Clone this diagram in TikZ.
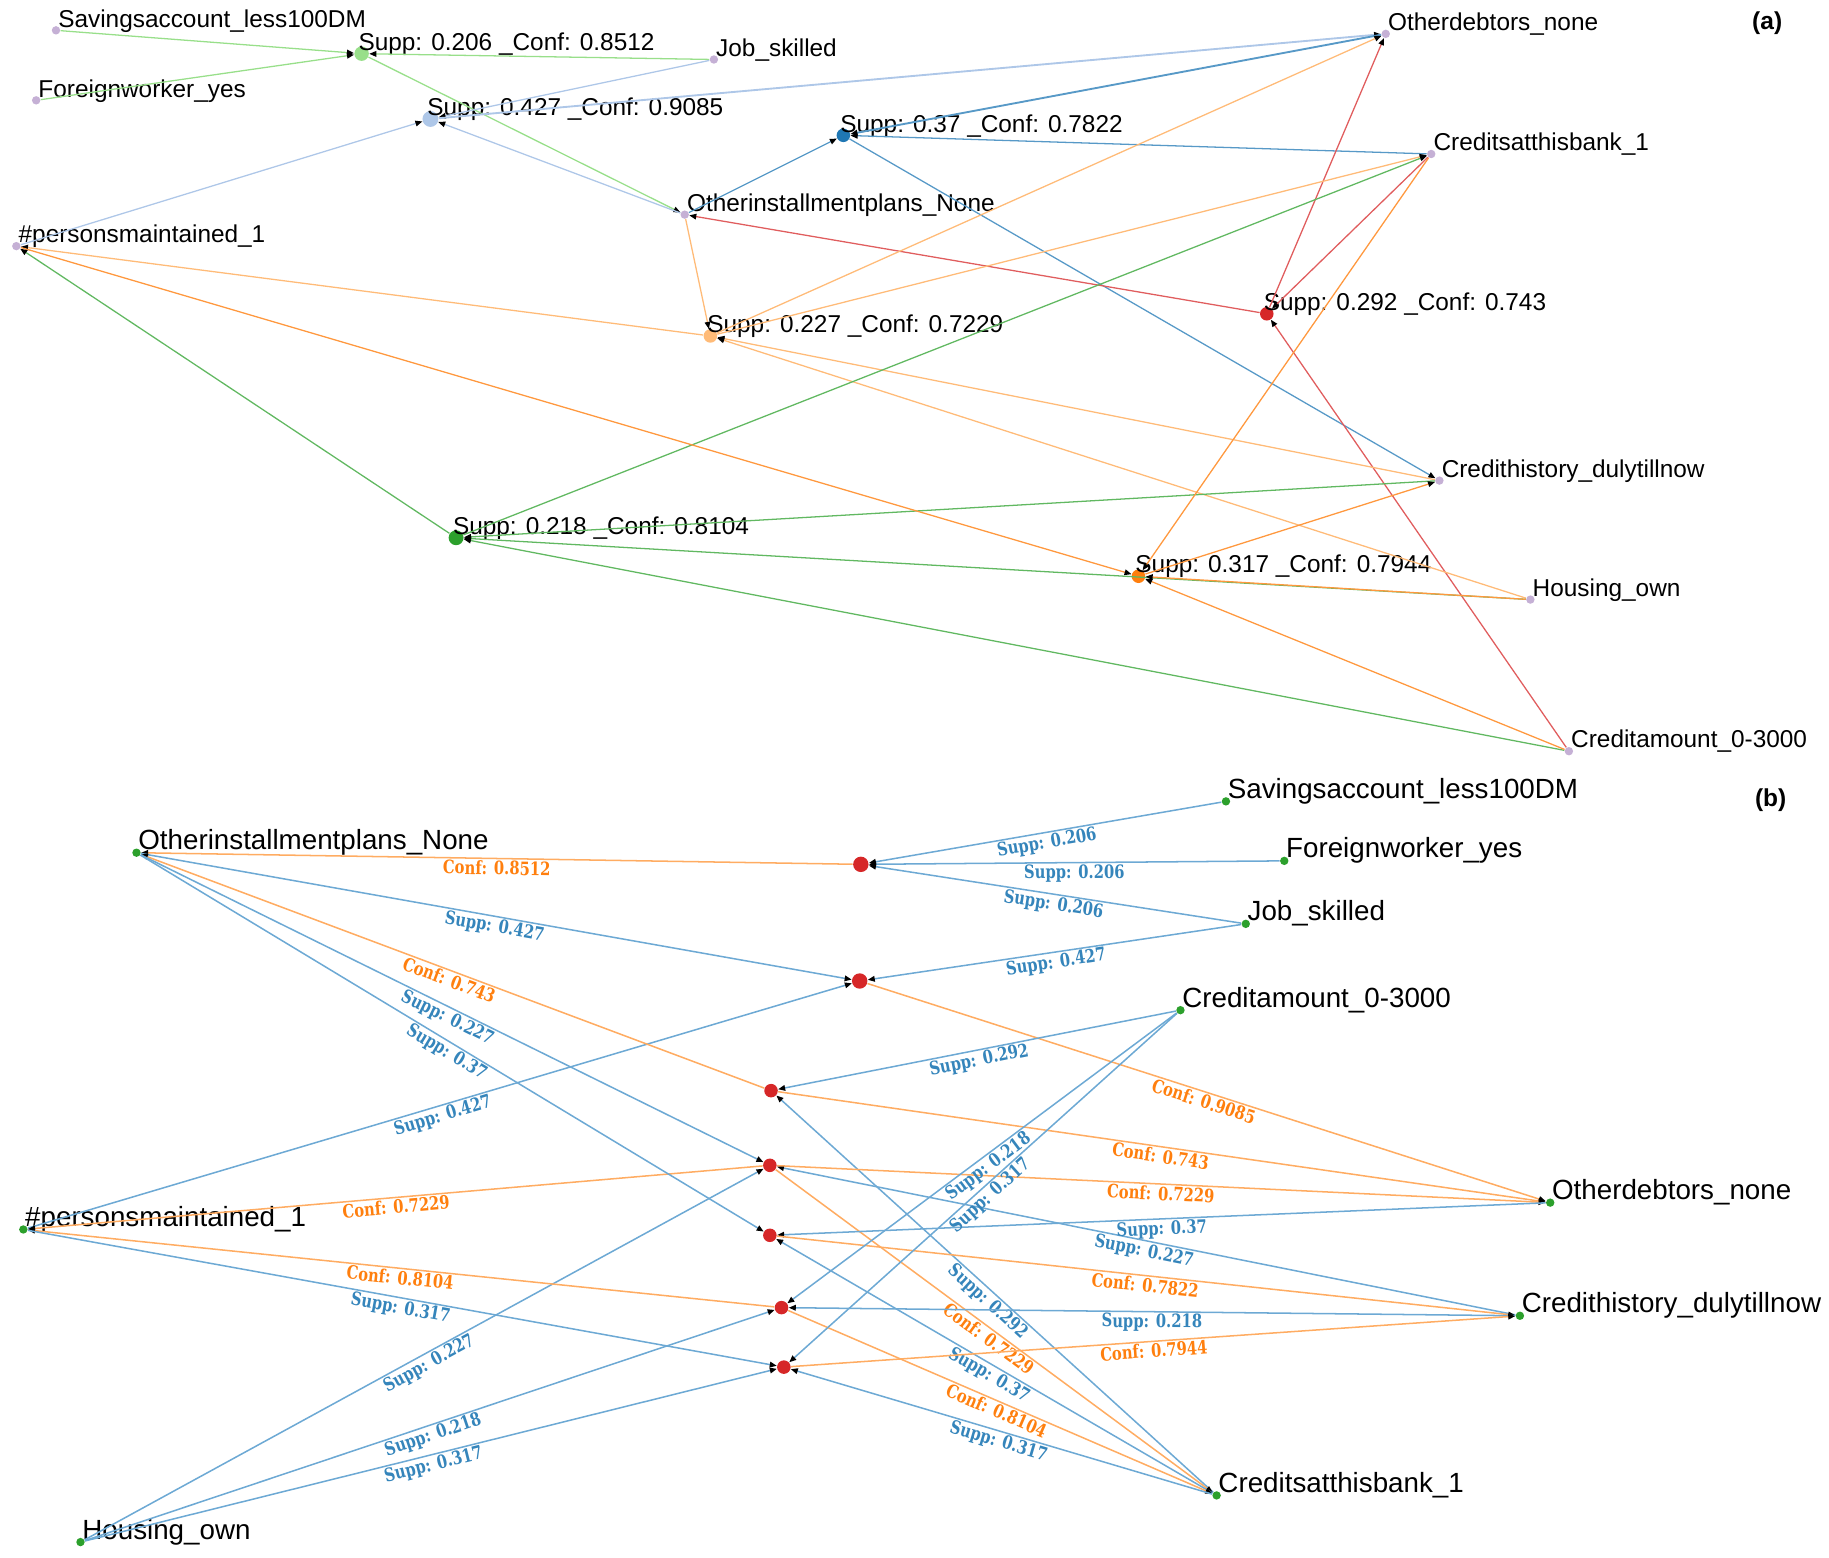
\documentclass[tikz,border=0pt]{standalone}
\usepackage{fontspec}
\setmainfont{Liberation Sans}
\newfontfamily\edgefont[FakeStretch=0.8]{DejaVu Serif}
\usetikzlibrary{arrows.meta}

\definecolor{lilac}{HTML}{C5B0D5}
\definecolor{ltgreen}{HTML}{98DF8A}
\definecolor{ltblue}{HTML}{AEC7E8}
\definecolor{dblue}{HTML}{1F77B4}
\definecolor{dred}{HTML}{D62728}
\definecolor{ltorange}{HTML}{FFBB78}
\definecolor{dgreen}{HTML}{2CA02C}
\definecolor{dorange}{HTML}{FF7F0E}
\definecolor{suppline}{HTML}{6DA9D4}
\definecolor{confline}{HTML}{FFAC62}

\begin{document}
\begin{tikzpicture}[x=0.5pt, y=-0.5pt,
    item/.style={circle, fill=#1, inner sep=0pt, minimum size=3.6pt},
    rul/.style={circle, fill=#1, inner sep=0pt, minimum size=5.8pt},
    txta/.style={anchor=base west, inner sep=0pt, xshift=-1.2pt, yshift=1.4pt, font=\fontsize{10.45}{12}\selectfont},
    txtr/.style={txta, xshift=-1.1pt},
    txtb/.style={anchor=base west, inner sep=0pt, xshift=-1.4pt, yshift=1.3pt, font=\fontsize{11.9}{14}\selectfont},
    arr/.style={-{Triangle[length=3pt, width=2.4pt, color=black]}, line width=0.55pt},
    supp/.style={arr, line width=0.65pt, draw=suppline},
    conf/.style={arr, line width=0.65pt, draw=confline},
    lbl/.style={sloped, below, inner sep=0.6pt, font=\edgefont\bfseries\fontsize{7.9}{9}\selectfont},
    sl/.style={lbl, text=dblue!90!white},
    cl/.style={lbl, text=dorange}
]
\useasboundingbox (0,0) rectangle (1568,1335);

% (a) items
\node[item=lilac, label={[txta]0:Savingsaccount\_less100DM}] (a-sav) at (48,26) {};
\node[item=lilac, label={[txta]0:Foreignworker\_yes}] (a-for) at (31,86) {};
\node[item=lilac, label={[txta]0:Job\_skilled}] (a-job) at (612,51) {};
\node[item=lilac, label={[txta]0:Otherdebtors\_none}] (a-odn) at (1188,29) {};
\node[item=lilac, label={[txta]0:Creditsatthisbank\_1}] (a-cab) at (1227,132) {};
\node[item=lilac, label={[txta]0:Otherinstallmentplans\_None}] (a-oip) at (587,184) {};
\node[item=lilac, label={[txta]0:\#personsmaintained\_1}] (a-pm) at (14,211) {};
\node[item=lilac, label={[txta]0:Credithistory\_dulytillnow}] (a-chd) at (1234,412) {};
\node[item=lilac, label={[txta]0:Housing\_own}] (a-hso) at (1312,514) {};
\node[item=lilac, label={[txta]0:Creditamount\_0-3000}] (a-cam) at (1345,644) {};

% (a) rules
\node[rul=ltgreen, minimum size=6.2pt, label={[txtr, xshift=-2.5pt]0:{Supp: 0.206 \_Conf: 0.8512}}] (a-r1) at (310,46) {};
\node[rul=ltblue, minimum size=6.8pt, label={[txtr, xshift=-2.8pt]0:{Supp: 0.427 \_Conf: 0.9085}}] (a-r2) at (369,102) {};
\node[rul=dblue, label={[txtr, xshift=-2.3pt]0:{Supp: 0.37 \_Conf: 0.7822}}] (a-r3) at (723,116) {};
\node[rul=dred, label={[txtr, xshift=-2.3pt]0:{Supp: 0.292 \_Conf: 0.743}}] (a-r4) at (1086,269) {};
\node[rul=ltorange, label={[txtr, xshift=-2.3pt]0:{Supp: 0.227 \_Conf: 0.7229}}] (a-r5) at (609,288) {};
\node[rul=dgreen, minimum size=6.4pt, label={[txtr, xshift=-2.6pt]0:{Supp: 0.218 \_Conf: 0.8104}}] (a-r6) at (391,461) {};
\node[rul=dorange, label={[txtr, xshift=-2.3pt]0:{Supp: 0.317 \_Conf: 0.7944}}] (a-r7) at (976,494) {};

\draw[arr, ltgreen] (a-sav) -- (a-r1);
\draw[arr, ltgreen] (a-for) -- (a-r1);
\draw[arr, ltgreen] (a-job) -- (a-r1);
\draw[arr, ltgreen] (a-r1) -- (a-oip);
\draw[arr, ltblue] (a-pm) -- (a-r2);
\draw[arr, ltblue] (a-oip) -- (a-r2);
\draw[arr, ltblue] (a-job) -- (a-r2);
\draw[arr, ltblue, line width=0.8pt] (a-r2) -- (a-odn);
\draw[arr, dblue!75!white] (a-oip) -- (a-r3);
\draw[arr, dblue!75!white] (a-cab) -- (a-r3);
\draw[arr, dblue!75!white, line width=0.8pt] (a-odn) -- (a-r3);
\draw[arr, dblue!75!white] (a-r3) -- (a-chd);
\draw[arr, dred!75!white] (a-cab) -- (a-r4);
\draw[arr, dred!75!white] (a-cam) -- (a-r4);
\draw[arr, dred!75!white] (a-r4) -- (a-oip);
\draw[arr, dred!75!white] (a-r4) -- (a-odn);
\draw[arr, ltorange] (a-oip) -- (a-r5);
\draw[arr, ltorange] (a-chd) -- (a-r5);
\draw[arr, ltorange] (a-hso) -- (a-r5);
\draw[arr, ltorange] (a-r5) -- (a-pm);
\draw[arr, ltorange] (a-r5) -- (a-odn);
\draw[arr, ltorange] (a-r5) -- (a-cab);
\draw[arr, dgreen!75!white] (a-chd) -- (a-r6);
\draw[arr, dgreen!75!white] (a-hso) -- (a-r6);
\draw[arr, dgreen!75!white] (a-cam) -- (a-r6);
\draw[arr, dgreen!75!white] (a-r6) -- (a-pm);
\draw[arr, dgreen!75!white] (a-r6) -- (a-cab);
\draw[arr, dorange!80!white] (a-pm) -- (a-r7);
\draw[arr, dorange!80!white] (a-cab) -- (a-r7);
\draw[arr, dorange!80!white] (a-hso) -- (a-r7);
\draw[arr, dorange!80!white] (a-cam) -- (a-r7);
\draw[arr, dorange!80!white] (a-r7) -- (a-chd);

\node[font=\bfseries\fontsize{10.5}{12}\selectfont] (lab-a) at (1515,20) {(a)};

% (b) items
\node[item=dgreen, label={[txtb]0:Savingsaccount\_less100DM}] (b-sav) at (1051,687) {};
\node[item=dgreen, label={[txtb]0:Foreignworker\_yes}] (b-for) at (1101,738) {};
\node[item=dgreen, label={[txtb]0:Job\_skilled}] (b-job) at (1068,792) {};
\node[item=dgreen, label={[txtb]0:Creditamount\_0-3000}] (b-cam) at (1012,866) {};
\node[item=dgreen, label={[txtb]0:Otherinstallmentplans\_None}] (b-oip) at (117,731) {};
\node[item=dgreen, label={[txtb]0:\#personsmaintained\_1}] (b-pm) at (20,1054) {};
\node[item=dgreen, label={[txtb]0:Otherdebtors\_none}] (b-odn) at (1329,1031) {};
\node[item=dgreen, label={[txtb]0:Credithistory\_dulytillnow}] (b-chd) at (1303,1128) {};
\node[item=dgreen, label={[txtb]0:Creditsatthisbank\_1}] (b-cab) at (1043,1282) {};
\node[item=dgreen, label={[txtb]0:Housing\_own}] (b-hso) at (69,1322) {};

% (b) rules
\node[rul=dred, minimum size=6.6pt] (b-r1) at (738,741) {};
\node[rul=dred, minimum size=6.6pt] (b-r2) at (737,841) {};
\node[rul=dred] (b-r3) at (661,935) {};
\node[rul=dred] (b-r4) at (660,999) {};
\node[rul=dred] (b-r5) at (660,1059) {};
\node[rul=dred] (b-r6) at (670,1121) {};
\node[rul=dred] (b-r7) at (672,1172) {};

\draw[supp] (b-sav) -- node[sl] {Supp: 0.206} (b-r1);
\draw[supp] (b-for) -- node[sl] {Supp: 0.206} (b-r1);
\draw[supp] (b-job) -- node[sl] {Supp: 0.206} (b-r1);
\draw[conf] (b-r1) -- node[cl] {Conf: 0.8512} (b-oip);

\draw[supp] (b-oip) -- node[sl] {Supp: 0.427} (b-r2);
\draw[supp] (b-job) -- node[sl] {Supp: 0.427} (b-r2);
\draw[supp] (b-pm) -- node[sl] {Supp: 0.427} (b-r2);
\draw[conf] (b-r2) -- node[cl] {Conf: 0.9085} (b-odn);

\draw[supp] (b-cam) -- node[sl] {Supp: 0.292} (b-r3);
\draw[supp] (b-cab) -- node[sl] {Supp: 0.292} (b-r3);
\draw[conf] (b-r3) -- node[cl] {Conf: 0.743} (b-oip);
\draw[conf] (b-r3) -- node[cl] {Conf: 0.743} (b-odn);

\draw[supp] (b-oip) -- node[sl] {Supp: 0.227} (b-r4);
\draw[supp] (b-hso) -- node[sl] {Supp: 0.227} (b-r4);
\draw[supp] (b-chd) -- node[sl] {Supp: 0.227} (b-r4);
\draw[conf] (b-r4) -- node[cl] {Conf: 0.7229} (b-pm);
\draw[conf] (b-r4) -- node[cl] {Conf: 0.7229} (b-odn);
\draw[conf] (b-r4) -- node[cl] {Conf: 0.7229} (b-cab);

\draw[supp] (b-oip) -- node[sl] {Supp: 0.37} (b-r5);
\draw[supp] (b-odn) -- node[sl] {Supp: 0.37} (b-r5);
\draw[supp] (b-cab) -- node[sl] {Supp: 0.37} (b-r5);
\draw[conf] (b-r5) -- node[cl] {Conf: 0.7822} (b-chd);

\draw[supp] (b-cam) -- node[sl] {Supp: 0.218} (b-r6);
\draw[supp] (b-hso) -- node[sl] {Supp: 0.218} (b-r6);
\draw[supp] (b-chd) -- node[sl] {Supp: 0.218} (b-r6);
\draw[conf] (b-r6) -- node[cl] {Conf: 0.8104} (b-pm);
\draw[conf] (b-r6) -- node[cl] {Conf: 0.8104} (b-cab);

\draw[supp] (b-pm) -- node[sl] {Supp: 0.317} (b-r7);
\draw[supp] (b-hso) -- node[sl] {Supp: 0.317} (b-r7);
\draw[supp] (b-cam) -- node[sl] {Supp: 0.317} (b-r7);
\draw[supp] (b-cab) -- node[sl] {Supp: 0.317} (b-r7);
\draw[conf] (b-r7) -- node[cl] {Conf: 0.7944} (b-chd);

\node[font=\bfseries\fontsize{10.5}{12}\selectfont] (lab-b) at (1518,686) {(b)};
\end{tikzpicture}
\end{document}
